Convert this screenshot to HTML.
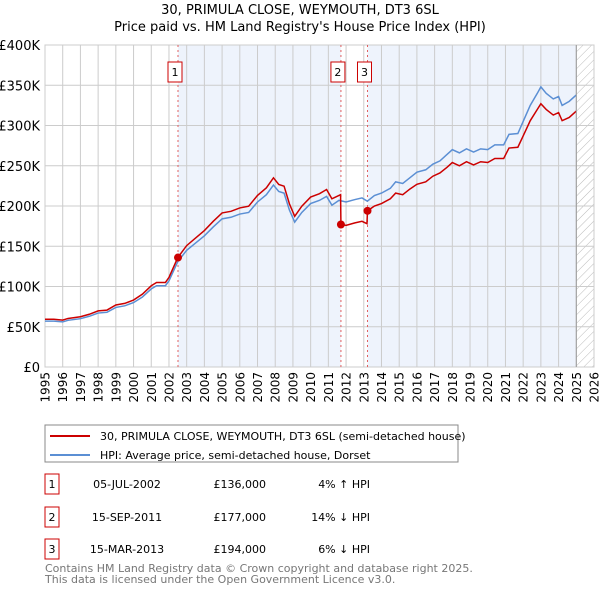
<!DOCTYPE html>
<html><head><meta charset="utf-8"><style>
body{margin:0;background:#fff;font-family:"Liberation Sans","DejaVu Sans",sans-serif;}
svg text{font-family:"DejaVu Sans","Liberation Sans",sans-serif;}
</style></head><body>
<svg id="c" width="600" height="590" xmlns="http://www.w3.org/2000/svg">
<defs><pattern id="hatch" width="6" height="6" patternUnits="userSpaceOnUse" patternTransform="rotate(45)"><line x1="0" y1="0" x2="0" y2="6" stroke="#bbb" stroke-width="1"/></pattern></defs>
<text x="300" y="14" text-anchor="middle" font-size="13">30, PRIMULA CLOSE, WEYMOUTH, DT3 6SL</text>
<text x="300" y="31" text-anchor="middle" font-size="13">Price paid vs. HM Land Registry's House Price Index (HPI)</text>
<g id="plot"></g>
<rect x="45" y="425" width="413" height="37" fill="#fff" stroke="#888"/>
<line x1="50" y1="436" x2="90" y2="436" stroke="#cc0000" stroke-width="2"/>
<text x="100" y="440" font-size="11">30, PRIMULA CLOSE, WEYMOUTH, DT3 6SL (semi-detached house)</text>
<line x1="50" y1="455" x2="90" y2="455" stroke="#5b8fd4" stroke-width="2"/>
<text x="100" y="459" font-size="11">HPI: Average price, semi-detached house, Dorset</text>
<g id="table" font-size="11"></g>
<text x="45" y="572" font-size="11" fill="#777">Contains HM Land Registry data © Crown copyright and database right 2025.</text>
<text x="45" y="583" font-size="11" fill="#777">This data is licensed under the Open Government Licence v3.0.</text>
</svg>
<script>
const hpiYears=[1995,1995.5,1996,1996.3,1997,1997.5,1998,1998.5,1999,1999.5,2000,2000.5,2001,2001.3,2001.8,2002,2002.5,2003,2003.5,2004,2004.5,2005,2005.5,2006,2006.5,2007,2007.5,2007.9,2008.2,2008.5,2008.8,2009.1,2009.5,2010,2010.5,2010.9,2011.2,2011.6,2012,2012.5,2012.9,2013.2,2013.6,2014,2014.5,2014.8,2015.2,2015.6,2016,2016.5,2016.9,2017.3,2017.7,2018,2018.4,2018.8,2019.2,2019.6,2020,2020.4,2020.9,2021.2,2021.7,2022,2022.4,2022.8,2023,2023.3,2023.7,2024,2024.2,2024.6,2025];
const hpiValues=[57,57,56,58,60,63,67,68,74,76,80,87,97,101,101,107,131,145,154,163,174,184,186,190,192,205,214,226,218,216,195,180,192,203,207,212,201,207,205,208,210,206,213,216,222,230,228,235,242,245,252,256,264,270,266,271,267,271,270,276,276,289,290,305,325,340,348,340,333,336,325,330,338];
const redYears=[1995,1995.5,1996,1996.3,1997,1997.5,1998,1998.5,1999,1999.5,2000,2000.5,2001,2001.3,2001.8,2002,2002.5,2003,2003.5,2004,2004.5,2005,2005.5,2006,2006.5,2007,2007.5,2007.9,2008.2,2008.5,2008.8,2009.1,2009.5,2010,2010.5,2010.9,2011.2,2011.69,2011.71,2012,2012.5,2012.9,2013.18,2013.21,2013.6,2014,2014.5,2014.8,2015.2,2015.6,2016,2016.5,2016.9,2017.3,2017.7,2018,2018.4,2018.8,2019.2,2019.6,2020,2020.4,2020.9,2021.2,2021.7,2022,2022.4,2022.8,2023,2023.3,2023.7,2024,2024.2,2024.6,2025];
const redValues=[59.3,59.3,58.2,60.3,62.4,65.5,69.7,70.7,77,79,83.2,90.5,100.9,105,105,111.3,136,150.8,160.2,169.5,181,191.4,193.4,197.6,199.7,213.2,222.6,235,226.7,224.6,202.8,187.2,199.7,211.1,215.3,220.5,209,214,177,176,179,181,178,194,200,203,209,216,214,221,227,230,237,241,248,254,250,255,251,255,254,259,259,272,273,287,306,320,327,320,313,316,306,310,318];
const saleYears=[2002.51,2011.71,2013.21];
const salePrices=[136,177,194];
const saleLabels=["1","2","3"];
const saleDates=["05-JUL-2002","15-SEP-2011","15-MAR-2013"];
const salePriceText=["£136,000","£177,000","£194,000"];
const saleHpiText=["4% ↑ HPI","14% ↓ HPI","6% ↓ HPI"];
const yTicks=[0,50,100,150,200,250,300,350,400];
const xTicks=[1995,1996,1997,1998,1999,2000,2001,2002,2003,2004,2005,2006,2007,2008,2009,2010,2011,2012,2013,2014,2015,2016,2017,2018,2019,2020,2021,2022,2023,2024,2025,2026];

const X0=45,X1=594,Y0=367,Y1=45;
const x=v=>X0+(v-1995)/(2026-1995)*(X1-X0);
const y=v=>Y0-v/400*(Y0-Y1);
const NS="http://www.w3.org/2000/svg";
const plot=document.getElementById('plot');
function mk(t,a,p){const e=document.createElementNS(NS,t);for(const k in a)e.setAttribute(k,a[k]);(p||plot).appendChild(e);return e;}

let e=mk('rect',{x:X0,y:Y1,width:X1-X0,height:Y0-Y1,fill:'#fff',stroke:'#ccc'});


e=mk('rect',{x:x(saleYears[0]),y:Y1,width:x(saleYears[1])-x(saleYears[0]),height:Y0-Y1,fill:'#eef3fc'});


e=mk('rect',{x:x(saleYears[2]),y:Y1,width:x(2025)-x(saleYears[2]),height:Y0-Y1,fill:'#eef3fc'});


e=mk('rect',{x:x(2025),y:Y1,width:X1-x(2025),height:Y0-Y1,fill:'url(#hatch)'});



xTicks.forEach(t=>{
  let l=mk('line',{x1:x(t),x2:x(t),y1:Y1,y2:Y0,stroke:'#ccc','stroke-width':1});
  
  
  let tx=mk('text',{x:0,y:0,'text-anchor':'end','font-size':12,transform:'translate('+(x(t)+4.5)+','+(Y0+5)+') rotate(-90)'});
  tx.textContent=t;
  
  
});
yTicks.forEach(t=>{
  let l=mk('line',{x1:X0,x2:X1,y1:y(t),y2:y(t),stroke:'#ccc','stroke-width':1});
  
  
  let tx=mk('text',{x:X0-5,y:y(t)+5,'text-anchor':'end','font-size':13});
  tx.textContent=t===0?'£0':'£'+t+'K';
  
  
});
saleYears.forEach((s,i)=>{
  let l=mk('line',{x1:x(s),x2:x(s),y1:Y1,y2:Y0,stroke:'#e06060','stroke-width':1,'stroke-dasharray':'2,3'});
  
  
  let cx=x(s)-3;
  let r=mk('rect',{x:cx-7,y:62,width:14,height:20,fill:'#fff',stroke:'#cc0000'});
  
  
  let t=mk('text',{x:cx,y:76,'text-anchor':'middle','font-size':11});
  t.textContent=saleLabels[i];
  
  
});
e=mk('polyline',{points:hpiYears.map((v,i)=>x(v)+','+y(hpiValues[i])).join(' '),fill:'none',stroke:'#5b8fd4','stroke-width':1.5});


e=mk('polyline',{points:redYears.map((v,i)=>x(v)+','+y(redValues[i])).join(' '),fill:'none',stroke:'#cc0000','stroke-width':1.5});


saleYears.forEach((s,i)=>{
  let c=mk('circle',{cx:x(s),cy:y(salePrices[i]),r:4,fill:'#cc0000'});
  
  
});
e=mk('line',{x1:x(2025),x2:x(2025),y1:Y1,y2:Y0,stroke:'#999'});



const tb=document.getElementById('table');
const rowY=[488,521,553];
saleYears.forEach((s,i)=>{
  const ry=rowY[i];
  let r=mk('rect',{x:45,y:ry-14,width:14,height:20,fill:'#fff',stroke:'#cc0000'},tb);
  
  
  let t=mk('text',{x:52,y:ry,'text-anchor':'middle'},tb);t.textContent=saleLabels[i];
  
  
  t=mk('text',{x:127,y:ry,'text-anchor':'middle'},tb);t.textContent=saleDates[i];
  
  
  t=mk('text',{x:266,y:ry,'text-anchor':'end'},tb);t.textContent=salePriceText[i];
  
  
  t=mk('text',{x:370,y:ry,'text-anchor':'end'},tb);t.textContent=saleHpiText[i];
  
  
});
</script>
</body></html>
